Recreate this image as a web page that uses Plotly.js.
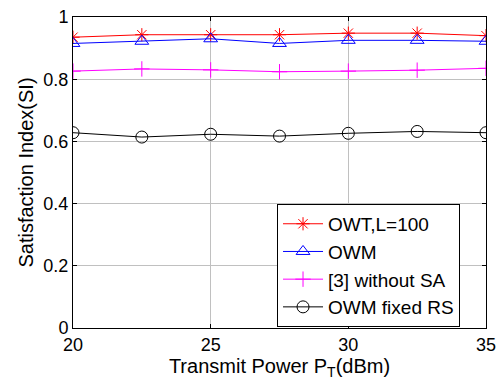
<!DOCTYPE html>
<html><head><meta charset="utf-8">
<script src="https://cdn.plot.ly/plotly-3.0.1.min.js"></script>
<style>html,body{margin:0;padding:0;background:#fff}#c{width:498px;height:381px}</style>
</head><body><div id="c"></div>
<script>
const xPower = [20, 22.5, 25, 27.5, 30, 32.5, 35];
const owt = [0.935, 0.943, 0.943, 0.943, 0.948, 0.948, 0.940];
const owm = [0.915, 0.922, 0.930, 0.915, 0.925, 0.925, 0.922];
const noSA = [0.826, 0.833, 0.830, 0.824, 0.826, 0.829, 0.835];
const fixedRS = [0.628, 0.614, 0.623, 0.617, 0.626, 0.632, 0.628];
const names = ['OWT,L=100', 'OWM', '[3] without SA', 'OWM fixed RS'];
const xTicks = [20, 25, 30, 35];
const yTicks = [0, 0.2, 0.4, 0.6, 0.8, 1];
const yTickText = ['0', '0.2', '0.4', '0.6', '0.8', '1'];

const FONT = 'Liberation Sans, Arial, sans-serif';
const mk = (y, name, color, symbol, size, g) => ({
  x: xPower, y: y, name: name, type: 'scatter', mode: 'lines+markers', legendgroup: g,
  line: {color: color, width: 1},
  marker: {symbol: symbol, size: size, color: color, line: {color: color, width: 1}}
});
const data = [
  mk(owt, names[0], '#ff0000', 'asterisk-open', 11, 'a'),
  mk(owm, names[1], '#0000ff', 'triangle-up-open', 12, 'b'),
  mk(noSA, names[2], '#ff00ff', 'cross-thin-open', 11, 'c'),
  mk(fixedRS, names[3], '#000000', 'circle-open', 12, 'd')
];
const ax = {
  showline: true, linecolor: '#000', linewidth: 1, mirror: 'ticks',
  ticks: 'inside', ticklen: 4, tickcolor: '#000',
  showgrid: true, gridcolor: '#c0c0c0', gridwidth: 1,
  zeroline: false, tickfont: {family: FONT, size: 18, color: '#000'}
};
const layout = {
  width: 498, height: 381,
  margin: {l: 73, r: 12, t: 17, b: 53},
  paper_bgcolor: '#fff', plot_bgcolor: '#fff',
  showlegend: true,
  legend: {x: 0.494, y: 0.399, xanchor: 'left', yanchor: 'top',
    bgcolor: '#fff', bordercolor: '#000', borderwidth: 1,
    font: {family: FONT, size: 19, color: '#000'},
    tracegroupgap: 0, itemwidth: 40},
  xaxis: Object.assign({}, ax, {range: [20, 35], tickvals: xTicks, ticktext: xTicks.map(String),
    title: {text: 'Transmit Power P<sub>T</sub>(dBm)', font: {family: FONT, size: 20, color: '#000'}, standoff: 0}}),
  yaxis: Object.assign({}, ax, {range: [0, 1], tickvals: yTicks, ticktext: yTickText,
    title: {text: 'Satisfaction Index(SI)', font: {family: FONT, size: 20, color: '#000'}, standoff: 4}})
};
Plotly.newPlot('c', data, layout, {staticPlot: true});
</script></body></html>
